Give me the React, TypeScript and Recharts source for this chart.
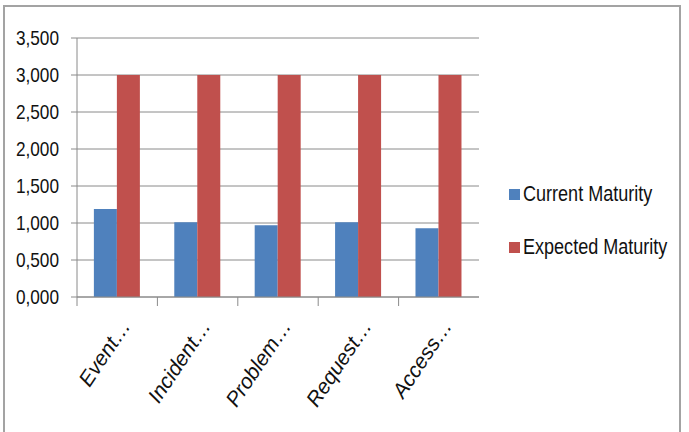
import React from "react";
import { BarChart, Bar, XAxis, YAxis, CartesianGrid } from "recharts";

const categories = ["Event…", "Incident…", "Problem…", "Request…", "Access…"];
const currentMaturity = [1.19, 1.01, 0.97, 1.01, 0.93];
const expectedMaturity = [3.0, 3.0, 3.0, 3.0, 3.0];
const yTicks = [0, 0.5, 1, 1.5, 2, 2.5, 3, 3.5];
const seriesNames = ["Current Maturity", "Expected Maturity"];
const seriesColors = ["#4F81BD", "#C0504D"];

const data = categories.map((c, i) => ({
  name: c,
  current: currentMaturity[i],
  expected: expectedMaturity[i],
}));

const W = 689;
const H = 432;
const X_H = 135;
const Y_W = 77;
const M = { top: 38, right: 210, bottom: 0, left: 0 };
const plotW = W - M.left - M.right - Y_W;
const halfBand = plotW / categories.length / 2;

const FONT = "'Liberation Sans', Arial, sans-serif";
const AXIS = "#8a8a8a";
const TEXT = "#111";
const SQUEEZE = 0.82;

const XTick = (props: any) => {
  const { x, y, payload } = props;
  const ax = x + 14;
  const ay = y + 29;
  return (
    <g>
      <line x1={x - halfBand} y1={y} x2={x - halfBand} y2={y + 9} stroke={AXIS} strokeWidth={1} />
      <text
        x={ax}
        y={ay}
        textAnchor="end"
        fill={TEXT}
        fontStyle="italic"
        fontSize={21}
        fontFamily={FONT}
        transform={`rotate(-56, ${ax}, ${ay})`}
      >
        {payload.value}
      </text>
    </g>
  );
};

const YTick = (props: any) => {
  const { x, y, payload, tickFormatter } = props;
  const label = tickFormatter ? tickFormatter(payload.value) : payload.value;
  return (
    <text
      transform={`translate(${x}, ${y}) scale(${SQUEEZE}, 1)`}
      textAnchor="end"
      dominantBaseline="central"
      fill={TEXT}
      fontSize={21}
      fontFamily={FONT}
    >
      {label}
    </text>
  );
};

const LegendBox = () => (
  <div
    style={{
      position: "absolute",
      left: 509,
      top: 181,
      width: 175,
      fontFamily: FONT,
      fontSize: 22,
      color: TEXT,
    }}
  >
    {seriesNames.map((n, i) => (
      <div
        key={n}
        style={{ display: "flex", alignItems: "center", height: 26, marginBottom: i === 0 ? 27 : 0 }}
      >
        <span
          style={{
            display: "inline-block",
            flexShrink: 0,
            width: 11,
            height: 11,
            background: seriesColors[i],
            marginRight: 3,
          }}
        />
        <span
          style={{
            whiteSpace: "nowrap",
            display: "inline-block",
            transform: `scaleX(${SQUEEZE})`,
            transformOrigin: "left center",
          }}
        >
          {n}
        </span>
      </div>
    ))}
  </div>
);

export default function App() {
  return (
    <div style={{ position: "absolute", left: 0, top: 0, width: W, height: H, background: "#fff", overflow: "hidden" }}>
      <div
        style={{
          position: "absolute",
          left: 3,
          top: 5,
          width: 678,
          height: 440,
          border: "2px solid #a3a3a3",
          boxSizing: "border-box",
        }}
      />
      <BarChart
        width={W}
        height={H}
        data={data}
        margin={M}
        barCategoryGap="21%"
        barGap={0}
      >
        <CartesianGrid vertical={false} stroke={AXIS} strokeWidth={1} />
        <XAxis
          dataKey="name"
          axisLine={{ stroke: AXIS, strokeWidth: 1 }}
          tickLine={false}
          tickSize={0}
          tickMargin={0}
          tick={<XTick />}
          interval={0}
          height={X_H}
        />
        <YAxis
          width={Y_W}
          domain={[0, 3.5]}
          ticks={yTicks}
          interval={0}
          axisLine={{ stroke: AXIS, strokeWidth: 1 }}
          tickLine={{ stroke: AXIS, strokeWidth: 1 }}
          tickSize={6}
          tickMargin={12}
          tick={<YTick />}
          tickFormatter={(v: number) => v.toFixed(3).replace(".", ",")}
        />
        <Bar dataKey="current" name={seriesNames[0]} fill={seriesColors[0]} isAnimationActive={false} />
        <Bar dataKey="expected" name={seriesNames[1]} fill={seriesColors[1]} isAnimationActive={false} />
      </BarChart>
      <LegendBox />
    </div>
  );
}
